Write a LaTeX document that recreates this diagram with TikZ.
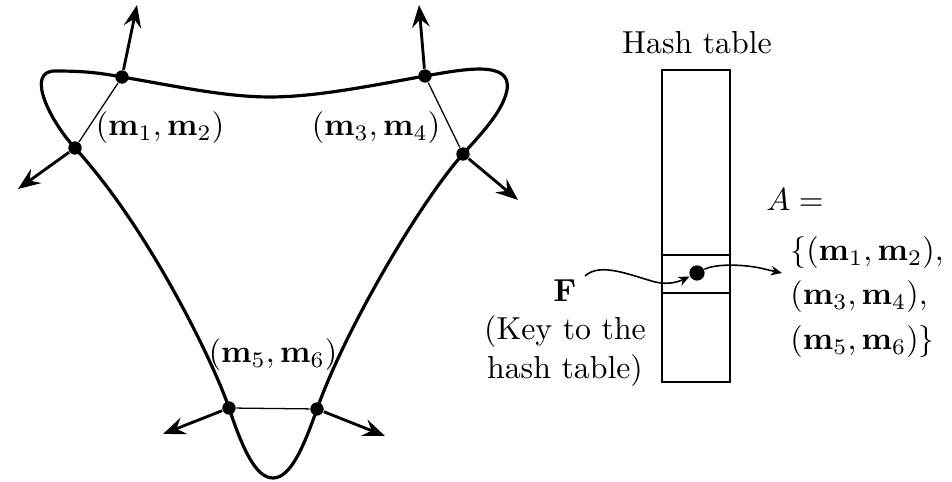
\documentclass[tikz,border=0pt]{standalone}
\usepackage{amsmath,amssymb}
\usetikzlibrary{arrows.meta,positioning,calc}

\begin{document}
\begin{tikzpicture}[x=0.01105cm, y=-0.01105cm,
    pt/.style={circle, fill, inner sep=0pt, minimum size=4.2pt},
    normalvec/.style={line width=0.9pt, -{Stealth[length=7pt,width=5.5pt,inset=2.5pt]}},
    chord/.style={line width=0.4pt},
    keyarrow/.style={line width=0.5pt, -{Stealth[length=3.5pt,width=3pt]}},
    cell/.style={draw, line width=0.6pt, inner sep=0pt, minimum width=0.751cm}]
    \useasboundingbox (0,0) rectangle (952,482);
    % points on the curve
    \coordinate (p1) at (122,77);
    \coordinate (p2) at (75,148);
    \coordinate (p3) at (425,76);
    \coordinate (p4) at (463,154);
    \coordinate (p5) at (229,408);
    \coordinate (p6) at (317,409);
    \draw[line width=1pt] (p1) .. controls (175,86) and (225,97) .. (270,97)
      .. controls (315,97) and (370,86) .. (p3)
      .. controls (465,69) and (512,60) .. (507,90)
      .. controls (503,110) and (485,130) .. (p4)
      .. controls (420,202) and (345,330) .. (p6)
      .. controls (303,449) and (290,478) .. (273,478)
      .. controls (256,478) and (243,450) .. (p5)
      .. controls (215,366) and (150,230) .. (p2)
      .. controls (50,121) and (25,71) .. (55,71)
      .. controls (85,71) and (100,73) .. (p1);
    \foreach \i in {1,...,6}
      \node[pt] (d\i) at (p\i) {};
    \draw[chord] (d1) -- (d2);
    \draw[chord] (d3) -- (d4);
    \draw[chord] (d5) -- (d6);
    % normals
    \coordinate (n1) at (137,5);
    \coordinate (n2) at (18,189);
    \coordinate (n3) at (419,5);
    \coordinate (n4) at (518,200);
    \coordinate (n5) at (163,434);
    \coordinate (n6) at (385,436);
    \foreach \i in {1,...,6}
      \draw[normalvec] (d\i) -- (n\i);
    \node (l12) at (160,128) {$(\mathbf{m}_1,\mathbf{m}_2)$};
    \node (l34) at (376,128) {$(\mathbf{m}_3,\mathbf{m}_4)$};
    \node (l56) at (273,355) {$(\mathbf{m}_5,\mathbf{m}_6)$};

    % hash table
    \node[cell, minimum height=3.448cm] (table) at (696,226) {};
    \node[cell, minimum height=0.42cm] (slot) at (696,274) {};
    \node (title) at (697,43) {Hash table};
    \node[pt, minimum size=4.8pt] (entry) at (697,273) {};
    \node[align=center] (key) at (565,333) {$\mathbf{F}$\\(Key to the\\hash table)};
    \coordinate (kstart) at (585,276);
    \draw[keyarrow] (kstart) .. controls (600,262) and (630,275) .. (655,282)
      .. controls (668,285) and (678,282) .. (entry);
    \coordinate (sout) at (782,273);
    \draw[keyarrow] (entry) .. controls (715,264) and (740,264) .. (760,268)
      .. controls (768,270) .. (sout);
    \node (aeq) at (795,200) {$A=$};
    \node[align=left] (set) at (867,297)
      {$\{(\mathbf{m}_1,\mathbf{m}_2),$\\[2pt] $(\mathbf{m}_3,\mathbf{m}_4),$\\[2pt] $(\mathbf{m}_5,\mathbf{m}_6)\}$};
\end{tikzpicture}
\end{document}
